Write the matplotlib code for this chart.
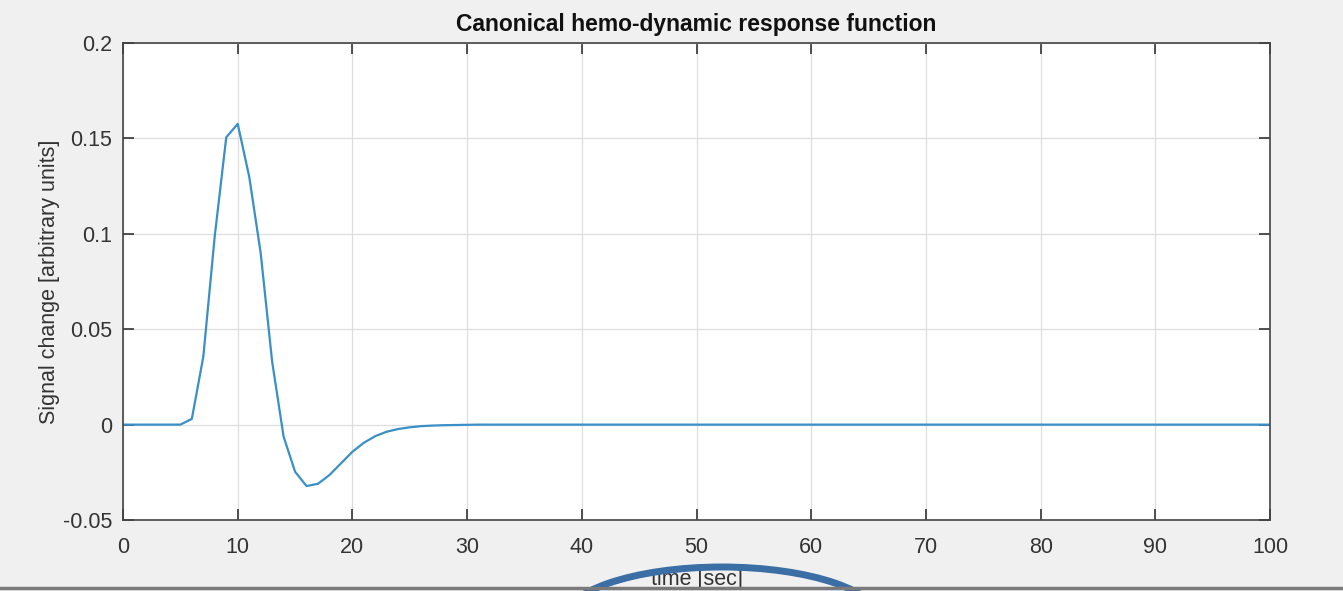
import numpy as np
import matplotlib
matplotlib.use("Agg")
import matplotlib.pyplot as plt
from matplotlib.patches import Ellipse
from matplotlib.lines import Line2D

# tid i sekunder (ett sampel per sekund)
tid = np.arange(0, 101)

# avlästa värden för de första 31 sekunderna, resten är noll
hrf_start = [0, 0, 0, 0, 0, 0, 0.003, 0.0356, 0.099, 0.1506,
             0.1576, 0.130, 0.090, 0.033, -0.0063, -0.0247, -0.0322, -0.031,
             -0.0264, -0.0203, -0.0142, -0.0095, -0.006, -0.0037, -0.0023,
             -0.0014, -0.0008, -0.0005, -0.0003, -0.0002, -0.0001]
hrf = np.zeros(len(tid))
hrf[:len(hrf_start)] = hrf_start

x_ticks = [0, 10, 20, 30, 40, 50, 60, 70, 80, 90, 100]
y_ticks = [-0.05, 0, 0.05, 0.1, 0.15, 0.2]
y_ticklabels = ["-0.05", "0", "0.05", "0.1", "0.15", "0.2"]

plt.rcParams["font.family"] = ["Liberation Sans", "DejaVu Sans"]

fig = plt.figure(figsize=(13.43, 5.91), dpi=100, facecolor="#f0f0f0")
ax = fig.add_axes([0.0916, 0.1201, 0.8541, 0.8071])
ax.set_facecolor("white")

ax.plot(tid, hrf, color="#3a8fc6", linewidth=1.6)

ax.set_xlim(0, 100)
ax.set_ylim(-0.05, 0.2)
ax.set_xticks(x_ticks)
ax.set_yticks(y_ticks)
ax.set_yticklabels(y_ticklabels)
ax.grid(True, color="#dedede", linewidth=0.9)
ax.set_axisbelow(True)

ax.tick_params(direction="in", length=8, width=1.2, top=True, right=True,
               labelsize=15.5, colors="#333333", pad=8)
ax.tick_params(axis="x", pad=12)
for s in ax.spines.values():
    s.set_color("#444444")
    s.set_linewidth(1.2)

ax.set_title("Canonical hemo-dynamic response function", fontsize=16.5,
             fontweight="bold", color="#111111", pad=9)
ax.set_xlabel("time [sec]", fontsize=15.5, color="#333333", labelpad=8)
ax.set_ylabel("Signal change [arbitrary units]", fontsize=15.5, color="#333333",
              labelpad=2)

# grå linje längst ner
fig.add_artist(Line2D([0, 1], [3 / 591, 3 / 591], transform=fig.transFigure,
                      color="#7a7a7a", linewidth=2.5))

# blå ellips (markering) runt x-etiketten
ell = Ellipse((722 / 1343, 1 - 622 / 591), 320 / 1343, 110 / 591,
              transform=fig.transFigure, fill=False,
              edgecolor="#3a6ea5", linewidth=5)
fig.add_artist(ell)

fig.savefig("out.png", dpi=100, facecolor=fig.get_facecolor())
